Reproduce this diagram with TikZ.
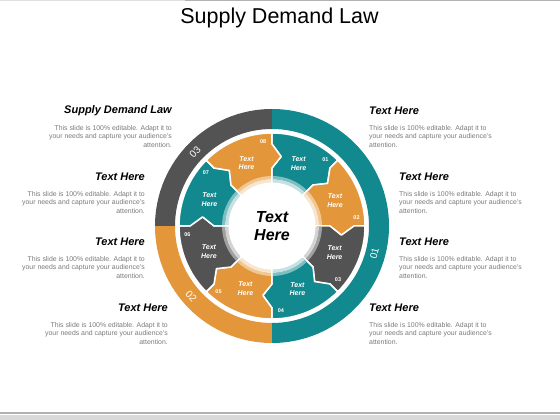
\documentclass[tikz,border=0pt]{standalone}
\usepackage{fontspec}
\setmainfont{Liberation Sans}
\definecolor{tealc}{HTML}{12898E}
\definecolor{orngc}{HTML}{E3973A}
\definecolor{grayc}{HTML}{535353}
\definecolor{bodyc}{HTML}{7A7A7A}
\newcommand{\blurb}{This slide is 100\% editable. Adapt it to\\your needs and capture your audience's\\attention.}

\begin{document}
\begin{tikzpicture}[x=1pt,y=1pt,
  piece/.style={draw=white,line width=1.5pt,line join=round},
  num/.style={text=white,font=\fontsize{5.5}{6}\selectfont\bfseries,inner sep=0pt},
  plbl/.style={text=white,align=center,font=\fontsize{7}{8.5}\selectfont\bfseries\itshape,inner sep=0pt},
  ringlbl/.style={text=white,font=\fontsize{10}{12}\selectfont,inner sep=0pt},
  heading/.style={font=\fontsize{11}{13}\selectfont\bfseries\itshape,inner sep=0pt},
  bodyl/.style={align=right,text=bodyc,font=\fontsize{6.9}{8.2}\selectfont,inner sep=0pt,anchor=north east},
  bodyr/.style={align=left,text=bodyc,font=\fontsize{6.9}{8.2}\selectfont,inner sep=0pt,anchor=north west}]

\useasboundingbox (-272,-194) rectangle (288,226);
% frame lines
\fill[black!12] (-272,226) rectangle (-87,225);
\fill[black!30] (-87,226) rectangle (288,225);
\fill[black!31] (-272,-186) rectangle (288,-187.5);
\fill[black!15] (-272,-189) rectangle (288,-194);

\node (title) at (7.5,208) {\fontsize{21.5}{24}\selectfont Supply Demand Law};

% outer ring
\fill[tealc] (90:117) arc[start angle=90,end angle=-90,radius=117pt] -- (-90:97) arc[start angle=-90,end angle=90,radius=97pt] -- cycle;
\fill[orngc] (270:117) arc[start angle=270,end angle=180,radius=117pt] -- (180:97) arc[start angle=180,end angle=270,radius=97pt] -- cycle;
\fill[grayc] (180:117) arc[start angle=180,end angle=90,radius=117pt] -- (90:97) arc[start angle=90,end angle=180,radius=97pt] -- cycle;
\node[ringlbl,rotate=75] (r01) at (-15:106) {01};
\node[ringlbl,rotate=-49] (r02) at (221:107) {02};
\node[ringlbl,rotate=46] (r03) at (136:107) {03};

% arrow pieces
\foreach \a/\col/\n in {90/tealc/01,45/orngc/02,0/grayc/03,-45/tealc/04,-90/orngc/05,-135/grayc/06,180/tealc/07,135/orngc/08}{
  \pgfmathsetmacro\b{\a-45}
  \filldraw[piece,fill=\col] (\a:93) arc[start angle=\a,end angle=\b,radius=93pt]
    -- (\b:82) -- ({\b-7.5}:70) -- (\b:58) -- (\b:44)
    arc[start angle=\b,end angle=\a,radius=44pt]
    -- (\a:58) -- ({\a-7.5}:70) -- (\a:82) -- cycle;
  \fill[\col!55] ({\b+1.3}:47) arc[start angle={\b+1.3},end angle={\a-1.3},radius=47pt]
    -- ({\a-1.3}:50) arc[start angle={\a-1.3},end angle={\b+1.3},radius=50pt] -- cycle;
  \fill[\col!25] ({\b+1.3}:43) arc[start angle={\b+1.3},end angle={\a-1.3},radius=43pt]
    -- ({\a-1.3}:47) arc[start angle={\a-1.3},end angle={\b+1.3},radius=47pt] -- cycle;
  \node[plbl] (p\n) at ({\a-23}:68) {Text\\Here};
  \node[num] (n\n) at ({\b+6}:85) {\n};
}

\node[circle,fill=white,minimum size=87pt,inner sep=0pt,align=center,
  font=\fontsize{16}{18}\selectfont\bfseries\itshape] (hub) at (0,0) {Text\\Here};

% left column
\node[heading,anchor=east] (h1) at (-100,115) {Supply Demand Law};
\node[bodyl] (b1) at (-100,100.5) {\blurb};
\node[heading,anchor=east] (h2) at (-127,49) {Text Here};
\node[bodyl] (b2) at (-127,34.5) {\blurb};
\node[heading,anchor=east] (h3) at (-127,-16) {Text Here};
\node[bodyl] (b3) at (-127,-30.5) {\blurb};
\node[heading,anchor=east] (h4) at (-104,-82) {Text Here};
\node[bodyl] (b4) at (-104,-96.5) {\blurb};

% right column
\node[heading,anchor=west] (h5) at (97,115) {Text Here};
\node[bodyr] (b5) at (97,100.5) {\blurb};
\node[heading,anchor=west] (h6) at (127,49) {Text Here};
\node[bodyr] (b6) at (127,34.5) {\blurb};
\node[heading,anchor=west] (h7) at (127,-16) {Text Here};
\node[bodyr] (b7) at (127,-30.5) {\blurb};
\node[heading,anchor=west] (h8) at (97,-82) {Text Here};
\node[bodyr] (b8) at (97,-96.5) {\blurb};
\end{tikzpicture}
\end{document}
